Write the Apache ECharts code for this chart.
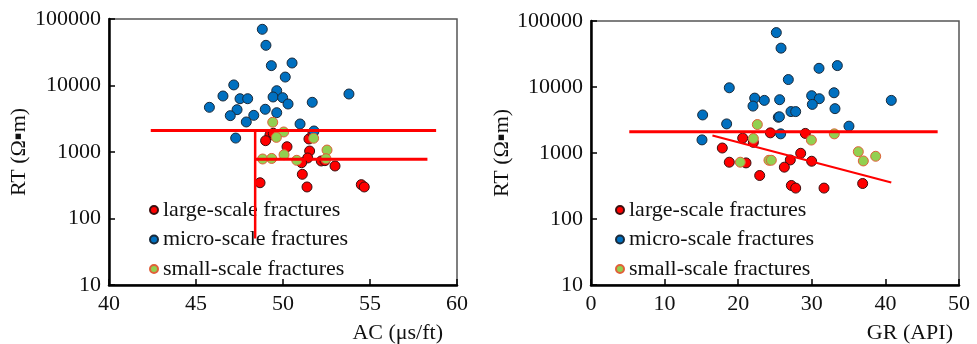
<!DOCTYPE html>
<html>
<head>
<meta charset="utf-8">
<script src="https://cdn.jsdelivr.net/npm/echarts@6/dist/echarts.min.js"></script>
<style>
  html, body { margin: 0; padding: 0; background: #fff; }
  #chart { width: 977px; height: 344px; }
</style>
</head>
<body>
<div id="chart"></div>
<script>
// ---- Left panel: AC vs RT ----
const acLarge  = [49.25, 49.44, 49.0, 50.23, 51.49, 51.72, 51.53, 51.42, 51.07, 52.20, 52.41, 52.99, 51.11, 48.68, 51.38, 54.50, 54.67];
const rtLargeA = [1800, 1910, 1480, 1200, 1570, 1900, 1035, 813, 690, 733, 741, 616, 462, 345, 298, 323, 298];

const acMicro  = [48.81, 49.02, 49.33, 50.52, 50.13, 47.17, 46.55, 47.53, 47.97, 49.64, 49.43, 49.98, 50.29, 51.68, 53.79,
                  45.77, 47.36, 46.97, 48.32, 48.98, 49.64, 47.89, 50.98, 51.78, 47.28];
const rtMicroA = [70000, 40200, 19900, 21800, 13400, 10200, 6950, 6330, 6330, 8350, 6720, 6560, 5270, 5590, 7450,
                  4700, 4330, 3520, 3560, 4390, 3900, 2830, 2640, 2070, 1620];

const acSmall  = [49.41, 50.04, 49.62, 51.76, 50.06, 48.83, 49.35, 50.79, 52.53, 52.47];
const rtSmallA = [2800, 2000, 1660, 1610, 910, 785, 800, 750, 1070, 793];

// Threshold lines, left panel
const acLineUpper = [[42.4, 2100], [58.8, 2100]];
const acLineCut   = [[48.4, 2100], [48.4, 50]];
const acLineLower = [[48.4, 780], [58.3, 780]];

// ---- Right panel: GR vs RT ----
const grLarge  = [20.61, 24.37, 29.12, 22.06, 17.84, 28.49, 18.79, 21.06, 27.08, 29.98, 26.27, 22.92, 27.22, 27.81, 31.66, 36.91];
const rtLargeB = [1680, 2020, 1980, 1450, 1190, 990, 725, 708, 785, 750, 610, 456, 322, 294, 294, 345];

const grMicro  = [25.18, 25.82, 30.98, 33.47, 26.81, 18.79, 22.24, 23.55, 25.63, 29.98, 31.02, 33.02, 40.80, 22.01, 30.07,
                  33.15, 27.17, 27.81, 15.17, 25.45, 25.60, 18.43, 35.05, 25.77, 15.08];
const rtMicroB = [66700, 38800, 19200, 21100, 12970, 9730, 6790, 6270, 6420, 7380, 6650, 8180, 6270, 5140, 5450,
                  4700, 4240, 4240, 3770, 3480, 3540, 2760, 2550, 1950, 1580];

const grSmall  = [22.6, 22.06, 33.06, 29.94, 20.29, 24.18, 24.5, 36.32, 37.0, 38.68];
const rtSmallB = [2700, 1660, 1950, 1570, 725, 776, 776, 1047, 758, 892];

// Threshold line and trend line, right panel
const grLineUpper = [[5.2, 2100], [47.1, 2100]];
const grTrend     = [[16.5, 1845], [40.8, 357]];

const xTicksLeft  = { min: 40, max: 60, interval: 5 };
const xTicksRight = { min: 0, max: 50, interval: 10 };
const rtRange     = { min: 10, max: 100000 };

const names = ['large-scale fractures', 'micro-scale fractures', 'small-scale fractures'];

const FONT = "'Liberation Serif', 'Times New Roman', serif";
const RED = '#FF0000', BLUE = '#0070C0', GREEN = '#92D050';

const pairs = (xs, ys) => xs.map((x, i) => [x, ys[i]]);

function xAxisOf(gi, ticks, title, gap) {
  return {
    gridIndex: gi, type: 'value', min: ticks.min, max: ticks.max, interval: ticks.interval,
    name: title, nameLocation: 'end', nameGap: gap,
    nameTextStyle: { fontFamily: FONT, fontSize: 22, color: '#111', align: 'right', verticalAlign: 'top', padding: [37, 0, 0, 0] },
    axisLine: { onZero: false, lineStyle: { color: '#000', width: 2.5 } },
    axisTick: { inside: true, length: 6, lineStyle: { color: '#000', width: 1.5 } },
    axisLabel: { fontFamily: FONT, fontSize: 22, color: '#111', margin: 8 },
    splitLine: { show: false }
  };
}

function yAxisOf(gi, gap) {
  return {
    gridIndex: gi, type: 'log', logBase: 10, min: rtRange.min, max: rtRange.max,
    name: 'RT (Ω▪m)', nameLocation: 'middle', nameGap: gap, nameRotate: 90,
    nameTextStyle: { fontFamily: FONT, fontSize: 22, color: '#111' },
    axisLine: { lineStyle: { color: '#000', width: 2.5 } },
    axisTick: { inside: true, length: 6, lineStyle: { color: '#000', width: 1.5 } },
    axisLabel: { fontFamily: FONT, fontSize: 22, color: '#111', margin: 8, formatter: v => String(Math.round(v)) },
    minorTick: { show: false },
    splitLine: { show: false }
  };
}

function scatter(name, gi, data, color, border) {
  return {
    name, type: 'scatter', xAxisIndex: gi, yAxisIndex: gi, data,
    symbol: 'circle', symbolSize: 10,
    itemStyle: { color, borderColor: border, borderWidth: 1, opacity: 1 },
    emphasis: { disabled: true }, z: 3
  };
}

function line(gi, data, width) {
  return {
    type: 'line', xAxisIndex: gi, yAxisIndex: gi, data,
    symbol: 'none', silent: true, z: 4,
    lineStyle: { color: RED, width }
  };
}

function legendAt(left, gap) {
  return {
    data: names, orient: 'vertical', left, top: 199, padding: 0,
    icon: 'circle', itemWidth: 8, itemHeight: 8, itemGap: 7.5, itemTextGap: gap,
    selectedMode: false,
    textStyle: { fontFamily: FONT, fontSize: 22, color: '#111', lineHeight: 22 }
  };
}

const option = {
  animation: false,
  backgroundColor: '#fff',
  grid: [
    { left: 109, top: 19, width: 348, height: 266, show: true, borderColor: '#555', borderWidth: 1.5 },
    { left: 591, top: 21, width: 368, height: 266, show: true, borderColor: '#555', borderWidth: 1.5 }
  ],
  xAxis: [
    xAxisOf(0, xTicksLeft, 'AC (μs/ft)', -14),
    xAxisOf(1, xTicksRight, 'GR (API)', -6)
  ],
  yAxis: [yAxisOf(0, 79), yAxisOf(1, 77)],
  legend: [legendAt(149, 7), legendAt(615, 6)],
  series: [
    scatter(names[0], 0, pairs(acLarge, rtLargeA), RED, '#3a1010'),
    scatter(names[1], 0, pairs(acMicro, rtMicroA), BLUE, '#1a2a3a'),
    scatter(names[2], 0, pairs(acSmall, rtSmallA), GREEN, '#E0603A'),
    line(0, acLineUpper, 3),
    line(0, acLineCut, 2.5),
    line(0, acLineLower, 3),
    scatter(names[0], 1, pairs(grLarge, rtLargeB), RED, '#3a1010'),
    scatter(names[1], 1, pairs(grMicro, rtMicroB), BLUE, '#1a2a3a'),
    scatter(names[2], 1, pairs(grSmall, rtSmallB), GREEN, '#E0603A'),
    line(1, grLineUpper, 3),
    line(1, grTrend, 2)
  ]
};

const chart = echarts.init(document.getElementById('chart'), null, { renderer: 'canvas' });
chart.setOption(option);
</script>
</body>
</html>
